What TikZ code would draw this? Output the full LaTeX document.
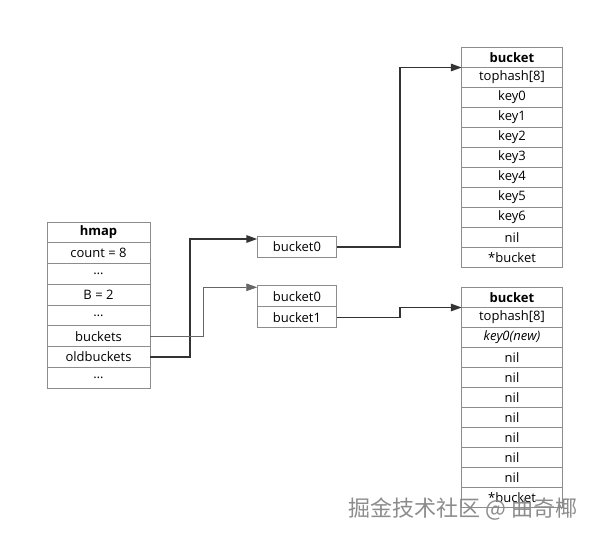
\documentclass[tikz,border=0pt]{standalone}
\usepackage{fontspec}
\setmainfont{Open Sans}
\newfontfamily\cjkfont{Noto Sans CJK SC}
\usetikzlibrary{arrows.meta, positioning, calc}

\begin{document}
\begin{tikzpicture}[
  x=1pt, y=-1pt,
  cell/.style  ={draw=black!45, line width=0.8pt, inner sep=0pt, outer sep=0pt,
                 font=\fontsize{13}{15}\selectfont},
  hcell/.style ={cell, minimum width=103pt, minimum height=20.75pt},
  bcell/.style ={cell, minimum width=100.5pt, minimum height=20pt},
  mcell/.style ={cell, minimum width=79.5pt, minimum height=21pt},
  thk/.style   ={-{Triangle[length=11pt, width=7.5pt]}, line width=1.6pt, black!80},
  thn/.style   ={-{Triangle[length=11pt, width=7.5pt]}, line width=0.8pt, black!60},
]
\useasboundingbox (0,0) rectangle (594,538);

% ================= hmap =================
\node[hcell] (h0) at (98.5,232.4) {\bfseries hmap};
\foreach \t [count=\i, remember=\i as \j (initially 0)] in
  {count = 8, \ldots, B = 2, \ldots, buckets, oldbuckets, \ldots}
  \node[hcell, below=0pt of h\j] (h\i) {\t};

% ================= bucket arrays =================
\node[mcell] (b0) at (297,247) {bucket0};
\node[mcell] (c0) at (297,296.3) {bucket0};
\node[mcell, below=0pt of c0] (c1) {bucket1};

% ================= bucket structs =================
\node[bcell] (t0) at (512,57.5) {\bfseries bucket};
\foreach \t [count=\i, remember=\i as \j (initially 0)] in
  {tophash[8], key0, key1, key2, key3, key4, key5, key6, nil, *bucket}
  \node[bcell, below=0pt of t\j] (t\i) {\t};

\node[bcell] (u0) at (512,297.5) {\bfseries bucket};
\foreach \t [count=\i, remember=\i as \j (initially 0)] in
  {tophash[8], \textit{key0(new)}, nil, nil, nil, nil, nil, nil, nil, *bucket}
  \node[bcell, below=0pt of u\j] (u\i) {\t};

% ================= pointers =================
\draw[thk] (h6.east) -- ++(40,0) |- ([yshift=-2.5pt]b0.north west);
\draw[thn] (h5.east) -- ++(53.5,0) |- ([yshift=-1.5pt]c0.north west);
\draw[thk] (b0.east) -- ++(63.3,0) |- (t0.south west);
\draw[thk] (c1.east) -- ++(63.3,0) |- (u0.south west);

% watermark
\node[text=black!45, font=\cjkfont\fontsize{22}{23}\selectfont, anchor=west]
  (wm) at (345,509) {掘金技术社区 @ 曲奇椰};

\end{tikzpicture}
\end{document}
